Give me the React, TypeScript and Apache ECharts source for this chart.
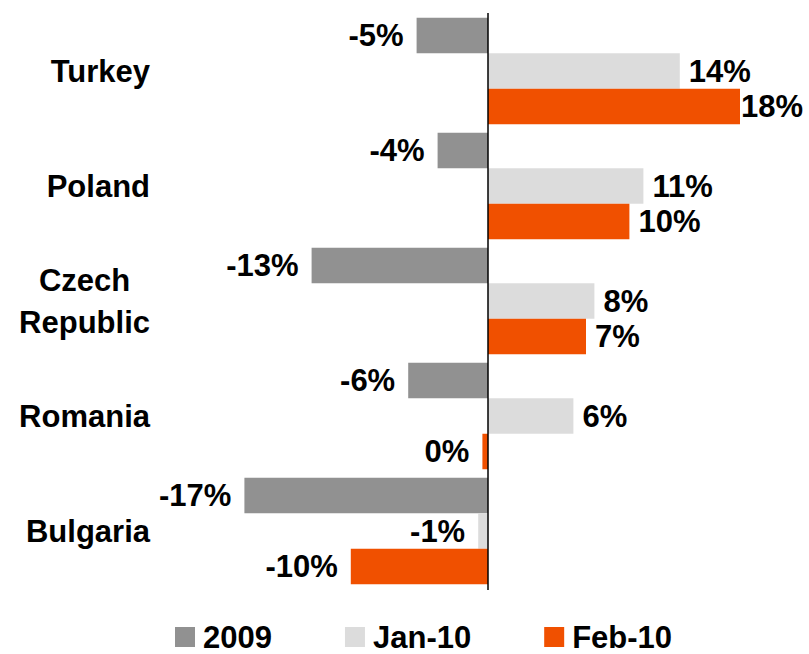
import React, { useEffect, useRef } from "react";
import * as echarts from "echarts";

const categories = ["Turkey", "Poland", "Czech Republic", "Romania", "Bulgaria"];
const seriesNames = ["2009", "Jan-10", "Feb-10"];
const values2009 = [-5.1, -3.6, -12.6, -5.7, -17.4];
const valuesJan10 = [13.7, 11.1, 7.6, 6.1, -0.7];
const valuesFeb10 = [18.0, 10.1, 7.0, -0.4, -9.8];
const colors = ["#919191", "#dcdcdc", "#f05000"];

const FONT = "'Liberation Sans', Arial, sans-serif";
const FS = 31;

export default function App() {
  const ref = useRef<HTMLDivElement>(null);
  useEffect(() => {
    if (!ref.current) return;
    const chart = echarts.init(ref.current, undefined, { renderer: "svg" });
    const all = [values2009, valuesJan10, valuesFeb10];
    const series: any[] = all.map((vals, si) => ({
      name: seriesNames[si],
      type: "bar",
      barWidth: 35.5,
      barGap: "0%",
      itemStyle: { color: colors[si] },
      data: vals.map((v, ci) => ({
        value: v,
        label: {
          show: true,
          position: v < 0 ? "left" : "right",
          // the longest bar's label hugs the bar (space is tight at the right edge)
          distance: v < 0 ? 13 : si === 2 && ci === 0 ? 1 : 9,
        },
      })),
      label: {
        show: true,
        fontFamily: FONT,
        fontWeight: "bold",
        fontSize: FS,
        color: "#000",
        formatter: (p: any) => `${Math.round(p.value)}%`,
      },
      z: 2,
    }));
    series[0].markLine = {
      silent: true,
      symbol: ["none", "none"],
      label: { show: false },
      lineStyle: { color: "#000", width: 1.5, type: "solid" },
      data: [[{ xAxis: 0, y: 13 }, { xAxis: 0, y: 590 }]],
      z: 5,
    };
    chart.setOption({
      animation: false,
      grid: { left: 208, right: 41, top: 13.5, bottom: 65.5, containLabel: false },
      xAxis: {
        type: "value",
        min: -20,
        max: 20,
        axisLine: { show: false },
        axisTick: { show: false },
        axisLabel: { show: false },
        splitLine: { show: false },
      },
      yAxis: {
        type: "category",
        inverse: true,
        data: categories,
        axisLine: { show: false },
        axisTick: { show: false },
        splitLine: { show: false },
        axisLabel: {
          margin: 58,
          align: "right",
          formatter: (v: string) =>
            v
              .split(" ")
              .map((w) => `{c|${w}}`)
              .join("\n"),
          rich: {
            c: {
              align: "center",
              fontFamily: FONT,
              fontWeight: "bold",
              fontSize: FS,
              color: "#000",
              lineHeight: 42,
            },
          },
        },
      },
      legend: {
        data: seriesNames,
        left: 175,
        top: 621.5,
        padding: 0,
        icon: "rect",
        itemWidth: 20,
        itemHeight: 20,
        itemGap: 73,
        textStyle: {
          fontFamily: FONT,
          fontWeight: "bold",
          fontSize: FS,
          lineHeight: 22,
          color: "#000",
          padding: [0, 0, 0, 3],
        },
      },
      series,
    });
    return () => chart.dispose();
  }, []);
  return (
    <div
      ref={ref}
      style={{ position: "fixed", left: 0, top: 0, width: 809, height: 654, background: "#fff" }}
    />
  );
}
